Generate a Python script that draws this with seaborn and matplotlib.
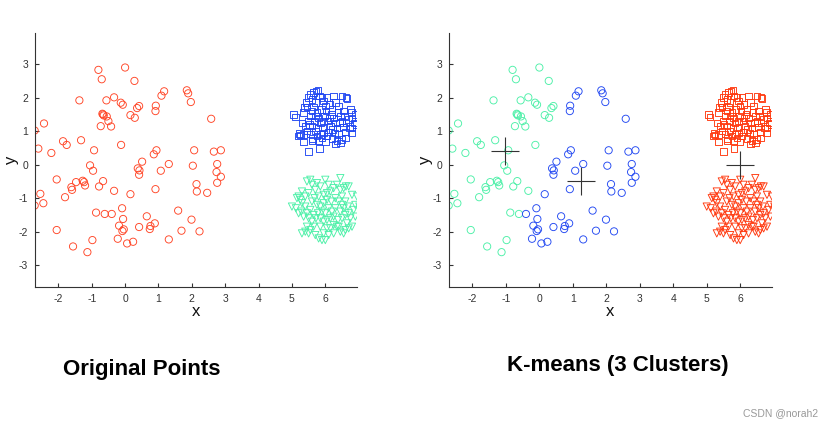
import numpy as np
import pandas as pd
import matplotlib
matplotlib.use("Agg")
import matplotlib.pyplot as plt
import seaborn as sns

# ---- data ----
# circles that k-means puts in the left (green) cluster
green_x = [-0.80, -0.70, 0.00, 0.28, -1.37, -0.56, -0.33, -0.13, -0.07, 0.42, 0.36,
           -0.66, -0.64, -0.68, -0.55, 0.16, 0.29, -0.50, -0.73, -0.42, -2.71, -2.43,
           -2.60, -2.21, -1.86, -1.75, -1.32, -0.93, -0.12, -1.05, -0.96, -2.05, -1.47,
           -1.27, -1.23, -1.20, -1.61, -1.59, -1.80, -0.66, -0.78, -0.33, -2.54, -2.45,
           -2.71, -0.87, -0.61, -2.05, -1.56, -0.98, -1.13]
green_y = [2.83, 2.55, 2.90, 2.50, 1.92, 1.92, 2.01, 1.85, 1.79, 1.75, 1.69,
           1.50, 1.47, 1.52, 1.44, 1.48, 1.40, 1.30, 1.15, 1.14, 1.02, 1.23,
           0.48, 0.35, 0.70, 0.59, 0.73, 0.43, 0.59, -0.02, -0.18, -0.44, -0.52,
           -0.48, -0.52, -0.62, -0.67, -0.75, -0.97, -0.49, -0.65, -0.78, -0.87, -1.15,
           -1.22, -1.43, -1.47, -1.95, -2.44, -2.25, -2.61]
# circles in the middle (blue) cluster
blue_x = [-0.40, -0.09, -0.06, -0.18, -0.08, -0.04, -0.22, 0.06, 0.24, 0.42, 0.65,
          0.74, 0.76, 0.89, 1.31, 1.59, 1.69, 1.99, 2.23, 0.16, 0.91, 2.46, 2.14,
          2.15, 2.76, 2.74, 2.87, 2.76, 2.66, 2.87, 2.07, 2.03, 1.31, 1.07, 0.51,
          0.38, 0.43, 0.42, 0.86, 0.94, 0.92, 0.91, 1.09, 1.17, 1.85, 1.89, 1.97, 2.58]
blue_y = [-1.47, -1.30, -1.62, -1.82, -1.98, -1.93, -2.21, -2.35, -2.30, -1.86, -1.54,
          -1.92, -1.83, -1.75, -2.23, -1.37, -1.97, -1.64, -1.99, -0.88, -0.73, -0.84, -0.58,
          -0.80, -0.54, -0.22, -0.36, 0.02, 0.39, 0.43, 0.43, -0.03, 0.02, -0.18, 0.09,
          -0.11, -0.17, -0.30, 0.31, 0.43, 1.76, 1.60, 2.06, 2.19, 2.22, 2.13, 1.87, 1.37]

sq_x = [5.05, 5.10, 5.22, 5.20, 5.25, 5.35, 5.50, 5.82, 5.30, 5.35, 5.38, 5.42, 5.50,
        5.55, 5.65, 5.72, 5.78, 5.60, 5.70, 5.82, 5.95, 6.05, 6.12, 6.25, 6.50, 6.62,
        6.65, 6.75, 6.78, 6.90, 6.88, 6.92, 6.80, 6.78, 6.60, 6.45, 6.35, 6.20, 6.05,
        5.90, 5.75, 5.62, 5.55, 5.45, 5.40, 5.48, 5.55, 5.60, 5.65, 5.75, 5.80, 5.85,
        5.92, 5.98, 6.02, 6.08, 6.15, 6.18, 6.25, 6.30, 6.35, 6.38, 6.45, 6.50, 6.55,
        6.58, 6.62, 6.70, 6.72, 6.40, 6.28, 6.10, 5.95, 5.70, 5.60, 5.68, 5.88, 6.00,
        6.20, 6.30, 6.40, 5.52, 5.78, 6.48, 5.62, 5.80, 6.00, 6.30, 5.45, 5.90, 6.55,
        5.70, 6.12, 6.42, 6.80, 5.35, 5.85, 6.22, 6.60, 5.95]
sq_y = [1.50, 1.42, 0.93, 0.85, 0.88, 0.68, 0.40, 0.48, 1.25, 1.55, 1.70, 1.85, 2.00,
        2.10, 2.15, 2.20, 2.22, 1.95, 1.85, 2.05, 1.90, 2.00, 1.80, 2.05, 2.05, 2.00,
        1.98, 1.65, 1.55, 1.50, 1.25, 1.20, 1.10, 0.95, 0.80, 0.65, 0.72, 0.78, 0.85,
        0.80, 0.85, 0.78, 0.92, 1.00, 1.15, 1.30, 1.45, 1.60, 1.72, 1.55, 1.40, 1.25,
        1.10, 1.45, 1.60, 1.30, 1.15, 1.50, 1.40, 1.25, 1.10, 1.55, 1.45, 1.30, 1.12,
        1.45, 1.25, 1.35, 1.10, 0.90, 0.95, 0.98, 0.95, 1.00, 1.15, 1.30, 1.65, 1.75,
        1.65, 1.85, 1.75, 1.20, 1.10, 0.75, 0.70, 0.72, 0.68, 0.62, 1.72, 2.00, 1.60,
        1.45, 1.40, 1.25, 1.40, 0.90, 0.90, 1.05, 0.98, 1.30]

tri_x = [5.00, 7.02, 6.00, 6.45, 5.45, 5.55, 5.60, 5.75, 5.85, 5.70, 5.30, 5.20, 5.25,
         5.15, 5.30, 5.40, 5.28, 5.35, 5.45, 5.55, 5.50, 5.65, 5.60, 5.40, 5.30, 5.50,
         5.55, 5.70, 5.80, 5.90, 6.00, 6.10, 6.15, 6.25, 6.35, 6.45, 6.55, 6.60, 6.70,
         6.80, 6.75, 6.85, 6.90, 6.95, 6.80, 6.70, 6.62, 6.55, 6.45, 6.35, 6.25, 6.15,
         6.05, 5.95, 5.80, 5.68, 5.60, 5.75, 5.85, 5.95, 6.05, 6.18, 6.30, 6.40, 6.50,
         6.60, 6.68, 6.55, 6.45, 6.30, 6.20, 6.10, 6.00, 5.90, 5.78, 5.72, 5.85, 5.95,
         6.05, 6.15, 6.25, 6.38, 6.50, 6.60, 6.70, 6.40, 6.25, 6.05, 5.85, 5.65, 5.45,
         5.12, 5.20, 6.90, 6.50, 5.50, 6.10, 5.95, 6.65, 5.40]
tri_y = [-1.25, -1.25, -0.45, -0.40, -0.50, -0.45, -0.60, -0.55, -0.65, -0.75, -0.80,
         -0.95, -1.05, -1.00, -1.15, -1.25, -1.40, -1.55, -1.45, -1.35, -1.60, -1.50,
         -1.70, -2.00, -2.05, -2.05, -1.95, -2.10, -2.20, -2.25, -2.25, -2.10, -1.90,
         -2.05, -1.85, -2.00, -2.05, -1.95, -1.90, -1.85, -1.60, -1.35, -1.20, -0.95,
         -0.90, -0.65, -0.65, -0.70, -0.75, -0.60, -0.70, -0.80, -0.85, -0.90, -0.95,
         -1.00, -1.10, -1.20, -1.25, -1.15, -1.05, -1.10, -1.00, -1.10, -0.95, -1.10,
         -1.25, -1.30, -1.40, -1.30, -1.40, -1.30, -1.45, -1.40, -1.45, -1.60, -1.60,
         -1.70, -1.65, -1.60, -1.55, -1.65, -1.60, -1.50, -1.45, -1.85, -1.80, -1.90,
         -1.85, -1.85, -1.85, -1.30, -1.45, -1.55, -1.20, -0.85, -0.60, -2.05, -1.75, -0.95]

cent_x = [-1.03, 1.23, 6.00]
cent_y = [0.42, -0.48, 0.00]

x_ticks = [-2, -1, 0, 1, 2, 3, 4, 5, 6]
y_ticks = [-3, -2, -1, 0, 1, 2, 3]

RED = "#FF4526"
RED2 = "#FF3A10"
BLUE = "#2248F2"
MINT = "#4DF0A8"

sns.set_theme(style="white")
plt.rcParams["font.family"] = ["Liberation Sans", "DejaVu Sans"]
plt.rcParams["axes.unicode_minus"] = False

fig = plt.figure(figsize=(8.29, 4.28), dpi=100)
W, H = 829, 428
ax1 = fig.add_axes([35 / W, 1 - 287 / H, (357 - 35) / W, (287 - 33) / H])
ax2 = fig.add_axes([449 / W, 1 - 287 / H, (772 - 449) / W, (287 - 33) / H])

circ_x = green_x + blue_x
circ_y = green_y + blue_y

def pts(x, y):
    return pd.DataFrame({"x": x, "y": y})

kw = dict(s=27, linewidth=0.65, facecolor="none", legend=False)
kws = dict(s=22, linewidth=0.65, facecolor="none", legend=False)

# left: original points
sns.scatterplot(data=pts(circ_x, circ_y), x="x", y="y", marker="o", edgecolor=RED, ax=ax1, **kw)
sns.scatterplot(data=pts(sq_x, sq_y), x="x", y="y", marker="s", edgecolor=BLUE, ax=ax1, **kws)
sns.scatterplot(data=pts(tri_x, tri_y), x="x", y="y", marker="v", edgecolor=MINT, ax=ax1, **kw)

# right: k-means result
sns.scatterplot(data=pts(green_x, green_y), x="x", y="y", marker="o", edgecolor=MINT, ax=ax2, **kw)
sns.scatterplot(data=pts(blue_x, blue_y), x="x", y="y", marker="o", edgecolor=BLUE, ax=ax2, **kw)
sns.scatterplot(data=pts(sq_x, sq_y), x="x", y="y", marker="s", edgecolor=RED2, ax=ax2, **kws)
sns.scatterplot(data=pts(tri_x, tri_y), x="x", y="y", marker="v", edgecolor=RED2, ax=ax2, **kw)
sns.scatterplot(data=pts(cent_x, cent_y), x="x", y="y", marker="+", color="#333333",
                s=400, linewidth=0.8, legend=False, ax=ax2)

for ax in (ax1, ax2):
    ax.set_xlim(-2.7, 6.95)
    ax.set_ylim(-3.65, 3.93)
    ax.set_xticks(x_ticks)
    ax.set_yticks(y_ticks)
    ax.tick_params(direction="in", length=3, width=0.8, labelsize=7.5,
                   colors="#333333", bottom=True, left=True, pad=5)
    for s in ("top", "right"):
        ax.spines[s].set_visible(False)
    for s in ("left", "bottom"):
        ax.spines[s].set_color("#333333")
        ax.spines[s].set_linewidth(0.8)
    ax.set_xlabel("x", fontsize=12, labelpad=0, color="#111111")
    ax.set_ylabel("y", fontsize=12, color="#111111")
    ax.yaxis.set_label_coords(-0.05, 0.5)
    ax.set_facecolor("white")

fig.text(142 / W, 1 - 369 / H, "Original Points", ha="center", va="center",
         fontsize=16, fontweight="bold", color="black")
fig.text(618 / W, 1 - 366 / H, "K-means (3 Clusters)", ha="center", va="center",
         fontsize=16, fontweight="bold", color="black")
fig.text(818 / W, 1 - 413 / H, "CSDN @norah2", ha="right", va="center",
         fontsize=7.5, color="#999999")

fig.savefig("out.png", dpi=100, facecolor="white")
